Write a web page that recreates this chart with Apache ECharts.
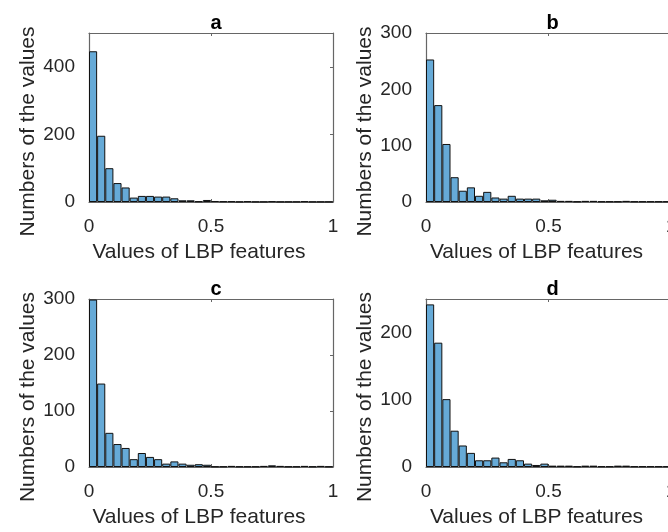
<!DOCTYPE html>
<html><head><meta charset="utf-8">
<script src="https://cdn.jsdelivr.net/npm/echarts@6/dist/echarts.min.js"></script>
<style>html,body{margin:0;padding:0;background:#fff}#c{width:668px;height:532px}</style>
</head><body><div id="c"></div>
<script>
const binLabels = ['0.00','0.03','0.07','0.10','0.13','0.17','0.20','0.23','0.27','0.30','0.33','0.37','0.40','0.43','0.47','0.50','0.53','0.57','0.60','0.63','0.67','0.70','0.73','0.77','0.80','0.83','0.87','0.90','0.93','0.97'];
const countsA = [446,196,100,56,43,13,18,18,16,16,11,5,5,2,6,3,2,2,1,2,1,1,2,1,1,1,2,1,1,1];
const countsB = [253,172,103,44,20,26,11,18,8,6,11,6,6,6,3,4,2,2,1,2,2,1,1,1,2,1,1,1,1,1];
const countsC = [299,149,61,41,34,14,25,18,14,6,10,6,4,5,4,1,1,2,1,1,1,2,3,2,1,1,2,1,2,1];
const countsD = [242,185,101,54,32,21,10,10,14,7,12,10,5,3,5,2,2,2,1,2,2,1,1,2,2,1,1,1,1,1];
const panelTitles = ['a','b','c','d'];
const yMaxes = [500,300,300,250];
const yIntervals = [200,100,100,100];
const xName = 'Values of LBP features';
const yName = 'Numbers of the values';

const allCounts = [countsA, countsB, countsC, countsD];
const layouts = [
  {left: 89, top: 33, width: 244, height: 169},
  {left: 426, top: 33, width: 245, height: 169},
  {left: 89, top: 299, width: 244, height: 168},
  {left: 426, top: 299, width: 245, height: 168}
];
const FONT = "'Liberation Sans', Arial, Helvetica, sans-serif";
const TXT = '#262626';
const LINE = '#666666';

const grid = [], xAxis = [], yAxis = [], series = [], title = [];
layouts.forEach((L, i) => {
  grid.push(Object.assign({containLabel: false, outerBoundsMode: 'none'}, L));
  title.push({
    text: panelTitles[i], left: L.left + L.width / 2 - (i % 2 === 1 ? 1 : 0), top: L.top - 25,
    textAlign: 'center',
    textStyle: {fontFamily: FONT, fontWeight: 'bold', fontSize: 20, color: '#000'}
  });
  const catIdx = xAxis.length;
  xAxis.push({type: 'category', gridIndex: i, data: binLabels, show: false, boundaryGap: true});
  xAxis.push({
    type: 'value', gridIndex: i, position: 'bottom', min: 0, max: 1, interval: 0.5,
    name: xName, nameLocation: 'middle', nameGap: 40,
    nameTextStyle: {fontFamily: FONT, fontSize: 21, color: TXT, padding: [0, 24, 0, 0]},
    axisLine: {show: true, onZero: false, lineStyle: {color: LINE, width: 1.2}},
    axisTick: {show: true, inside: true, length: 3, lineStyle: {color: LINE}},
    axisLabel: {show: true, margin: 15, fontFamily: FONT, fontSize: 19, color: TXT,
      formatter: v => String(v)},
    splitLine: {show: false}
  });
  xAxis.push({
    type: 'value', gridIndex: i, position: 'top', min: 0, max: 1, interval: 0.5,
    axisLine: {show: true, onZero: false, lineStyle: {color: LINE, width: 1.2}},
    axisTick: {show: true, inside: true, length: 3, lineStyle: {color: LINE}},
    axisLabel: {show: false}, splitLine: {show: false}
  });
  const yIdx = yAxis.length;
  yAxis.push({
    type: 'value', gridIndex: i, position: 'left', min: 0, max: yMaxes[i], interval: yIntervals[i],
    name: yName, nameLocation: 'middle', nameGap: 50,
    nameTextStyle: {fontFamily: FONT, fontSize: 21, color: TXT, padding: [0, 28, 0, 0]},
    axisLine: {show: true, onZero: false, lineStyle: {color: LINE, width: 1.2}},
    axisTick: {show: true, inside: true, length: 3, lineStyle: {color: LINE}},
    axisLabel: {show: true, margin: 14, fontFamily: FONT, fontSize: 19, color: TXT,
      showMaxLabel: (yMaxes[i] % yIntervals[i] === 0)},
    splitLine: {show: false}
  });
  yAxis.push({
    type: 'value', gridIndex: i, position: 'right', min: 0, max: yMaxes[i], interval: yIntervals[i],
    axisLine: {show: true, onZero: false, lineStyle: {color: LINE, width: 1.2}},
    axisTick: {show: true, inside: true, length: 3, lineStyle: {color: LINE}},
    axisLabel: {show: false}, splitLine: {show: false}
  });
  series.push({
    type: 'bar', xAxisIndex: catIdx, yAxisIndex: yIdx, data: allCounts[i],
    barWidth: '100%', barCategoryGap: 0,
    itemStyle: {color: '#66AAD7', borderColor: '#111', borderWidth: 1},
    silent: true, animation: false
  });
});

const chart = echarts.init(document.getElementById('c'), null, {renderer: 'canvas'});
chart.setOption({backgroundColor: '#fff', animation: false, title, grid, xAxis, yAxis, series});
</script></body></html>
